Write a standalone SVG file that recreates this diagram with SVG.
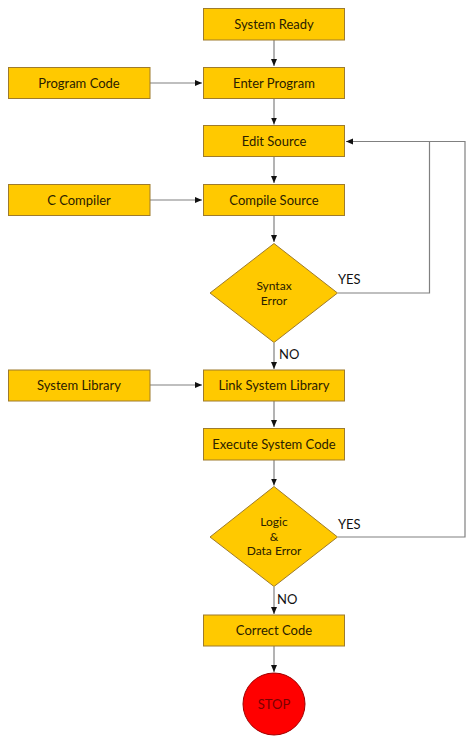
<svg xmlns="http://www.w3.org/2000/svg" width="474" height="744" viewBox="0 0 474 744">
<defs>
<marker id="ah" markerWidth="8" markerHeight="8" refX="7" refY="4" orient="auto" markerUnits="userSpaceOnUse">
<path d="M0,1 L7,4 L0,7 Z" fill="#111"/>
</marker>
<style>
.b{fill:#FFC900;stroke:#9E7B2C;stroke-width:1}
.t{font-family:Lato,"Open Sans","Liberation Sans",sans-serif;font-size:13px;fill:#2a2000;text-anchor:middle}
.d{font-size:12px}
.l{font-family:Lato,"Open Sans","Liberation Sans",sans-serif;font-size:13px;fill:#111}
.c{fill:none;stroke:#808080;stroke-width:1.2}
</style>
</defs>
<rect width="474" height="744" fill="#fff"/>
<g id="connectors">
<path class="c" d="M274,40 V66" marker-end="url(#ah)"/>
<path class="c" d="M150,83 H202" marker-end="url(#ah)"/>
<path class="c" d="M274,98 V124.5" marker-end="url(#ah)"/>
<path class="c" d="M274,157 V183" marker-end="url(#ah)"/>
<path class="c" d="M150,200 H202" marker-end="url(#ah)"/>
<path class="c" d="M274,215.5 V242" marker-end="url(#ah)"/>
<path class="c" d="M338,293 H429.5 V141.5 H346" marker-end="url(#ah)"/>
<path class="c" d="M274,343 V369" marker-end="url(#ah)"/>
<path class="c" d="M150,385 H202" marker-end="url(#ah)"/>
<path class="c" d="M274,401 V427" marker-end="url(#ah)"/>
<path class="c" d="M274,460 V485.5" marker-end="url(#ah)"/>
<path class="c" d="M338,537 H465 V141.5 H429.5"/>
<path class="c" d="M274,587 V614" marker-end="url(#ah)"/>
<path class="c" d="M274,646 V672" marker-end="url(#ah)"/>
<text class="l" x="338" y="284">YES</text>
<text class="l" x="279" y="359">NO</text>
<text class="l" x="338" y="529">YES</text>
<text class="l" x="277" y="604">NO</text>
</g>
<g id="system-ready"><rect class="b" x="203.5" y="8.5" width="141" height="31.5"/><text class="t" x="274" y="29">System Ready</text></g>
<g id="program-code"><rect class="b" x="8.5" y="67.5" width="141.5" height="31"/><text class="t" x="79" y="88">Program Code</text></g>
<g id="enter-program"><rect class="b" x="203.5" y="67.5" width="141" height="31"/><text class="t" x="274" y="88">Enter Program</text></g>
<g id="edit-source"><rect class="b" x="203.5" y="125.5" width="141" height="31"/><text class="t" x="274" y="146">Edit Source</text></g>
<g id="c-compiler"><rect class="b" x="8.5" y="184.5" width="141.5" height="31"/><text class="t" x="79" y="205">C Compiler</text></g>
<g id="compile-source"><rect class="b" x="203.5" y="184.5" width="141" height="31"/><text class="t" x="274" y="205">Compile Source</text></g>
<g id="syntax-error"><path class="b" d="M274,243.5 L337.5,293 L274,342.5 L210,293 Z"/><text class="t d" x="274" y="290">Syntax</text><text class="t d" x="274" y="304.5">Error</text></g>
<g id="system-library"><rect class="b" x="8.5" y="370" width="141.5" height="31"/><text class="t" x="79" y="390">System Library</text></g>
<g id="link-system-library"><rect class="b" x="203.5" y="370" width="141" height="31"/><text class="t" x="274" y="390">Link System Library</text></g>
<g id="execute-system-code"><rect class="b" x="203.5" y="428.5" width="141" height="31.5"/><text class="t" x="274" y="449">Execute System Code</text></g>
<g id="logic-data-error"><path class="b" d="M274,486.5 L337.5,537 L274,586.5 L210,537 Z"/><text class="t d" x="274" y="526">Logic</text><text class="t d" x="274" y="540.5">&amp;</text><text class="t d" x="274" y="555">Data Error</text></g>
<g id="correct-code"><rect class="b" x="203.5" y="615" width="141" height="31"/><text class="t" x="274" y="635">Correct Code</text></g>
<g id="stop"><circle cx="274" cy="704" r="31" fill="#FF0000" stroke="#A00000" stroke-width="1"/><text class="t" x="274" y="709" style="fill:#7a0000">STOP</text></g>
</svg>
